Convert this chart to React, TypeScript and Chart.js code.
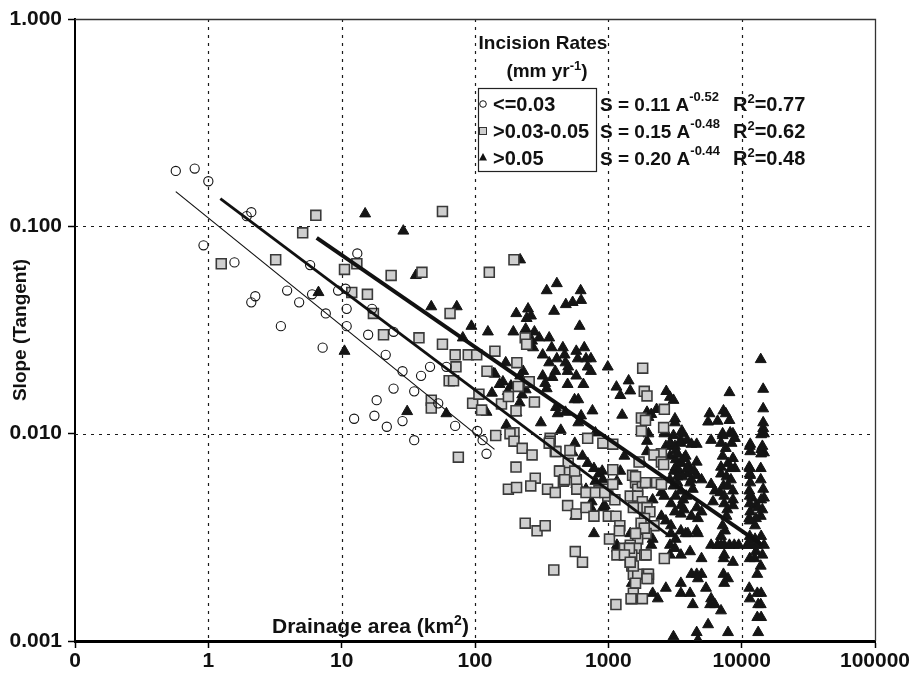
import React, { useEffect, useRef } from 'react';
import { Chart, registerables } from 'chart.js';

Chart.register(...registerables);

// ---- axis ticks ----
const xTickValues = [0.1, 1, 10, 100, 1000, 10000, 100000];
const xTickLabels = ['0', '1', '10', '100', '1000', '10000', '100000'];
const yTickValues = [0.001, 0.01, 0.1, 1];
const yTickLabels = ['0.001', '0.010', '0.100', '1.000'];

// ---- legend / fit text ----
const legendTitle = 'Incision Rates';
const legendUnit = ['(mm yr', '-1', ')'];
const legendLabels = ['<=0.03', '>0.03-0.05', '>0.05'];
const fitCoefs = ['0.11', '0.15', '0.20'];
const fitExps = ['-0.52', '-0.48', '-0.44'];
const fitR2 = ['0.77', '0.62', '0.48'];

// ---- data: [drainage area km2, slope] ----
const lowRate: [number, number][] = [
  [0.57, 0.185], [0.79, 0.19], [1.0, 0.165], [0.92, 0.081], [1.94, 0.112], [2.1, 0.117],
  [1.57, 0.067], [2.25, 0.046], [2.1, 0.043], [3.5, 0.033], [3.9, 0.049], [4.8, 0.043],
  [5.8, 0.065], [6.0, 0.047], [7.2, 0.026], [7.6, 0.038], [9.4, 0.049], [10.7, 0.05],
  [10.9, 0.04], [10.9, 0.033], [13.1, 0.074], [12.4, 0.0118], [15.8, 0.03], [16.9, 0.04],
  [18.3, 0.0145], [17.6, 0.0122], [21.8, 0.0108], [21.4, 0.024], [24.5, 0.031], [24.5, 0.0165],
  [28.6, 0.02], [28.6, 0.0115], [35, 0.016], [35, 0.0093], [39.4, 0.019], [46, 0.021],
  [53, 0.014], [61, 0.021], [71, 0.0109], [104, 0.0103], [114, 0.0093], [122, 0.008],
];

const midRate: [number, number][] = [
  [1.25, 0.066], [3.2, 0.069], [5.1, 0.093], [6.4, 0.113], [10.5, 0.062], [13, 0.066],
  [11.9, 0.048], [15.6, 0.047], [17.3, 0.038], [20.6, 0.03], [23.5, 0.058], [40, 0.06],
  [38, 0.029], [57, 0.118], [57, 0.027], [65, 0.038], [71, 0.024], [72, 0.021], [64, 0.018],
  [69, 0.018], [89, 0.024], [103, 0.024], [47, 0.0145], [47, 0.0133], [96, 0.014], [112, 0.013],
  [107, 0.0155], [123, 0.02], [141, 0.025], [128, 0.06], [143, 0.0098],
  [196, 0.069], [206, 0.022], [238, 0.029], [244, 0.027], [255, 0.0178], [211, 0.0169],
  [158, 0.0139], [178, 0.0151], [279, 0.0142], [203, 0.0129], [196, 0.0101], [183, 0.01],
  [366, 0.0095], [700, 0.0095],
  [1810, 0.0207], [1860, 0.016], [1950, 0.0152], [2630, 0.0131], [1770, 0.0119], [1900, 0.0116],
  [2600, 0.0107], [1770, 0.0103],
  [75, 0.0077], [203, 0.0069], [283, 0.0061], [178, 0.0054], [205, 0.0055], [262, 0.0056],
  [196, 0.0092], [226, 0.0085], [268, 0.0079], [366, 0.0092], [400, 0.0082], [350, 0.0054],
  [400, 0.0052], [435, 0.0066], [500, 0.0072], [510, 0.0065], [460, 0.0059], [575, 0.006],
  [495, 0.0045], [575, 0.0041], [238, 0.0037], [292, 0.0034], [336, 0.0036], [565, 0.0027],
  [640, 0.0024], [390, 0.0022], [680, 0.0044], [780, 0.004], [850, 0.0053], [990, 0.005],
  [1080, 0.0067], [1000, 0.004], [1140, 0.004], [1020, 0.0031], [1140, 0.0015], [910, 0.009],
  [1080, 0.0089], [580, 0.0054], [680, 0.0052], [800, 0.0052],
  [960, 0.0054], [1120, 0.0048], [1220, 0.0036], [1210, 0.0034], [1520, 0.0063], [1600, 0.0058],
  [1660, 0.0054], [1800, 0.0058], [1900, 0.0058], [1460, 0.005], [1660, 0.005], [1800, 0.0047],
  [1700, 0.0044], [1950, 0.0044], [2050, 0.0042], [1870, 0.0039], [1760, 0.0037], [1920, 0.0035],
  [2200, 0.0036], [1660, 0.0033], [1920, 0.0033], [1660, 0.0031], [1460, 0.0029], [1620, 0.0028],
  [1500, 0.0026], [1460, 0.0024], [1500, 0.0023], [1540, 0.0021], [1660, 0.0021], [1950, 0.0021],
  [2000, 0.002], [1600, 0.0019], [1540, 0.0017], [1500, 0.0016], [1800, 0.0016], [1870, 0.0026],
  [2630, 0.0025], [2300, 0.0058], [2500, 0.0057], [2500, 0.008], [2200, 0.0079], [2500, 0.0073],
  [2600, 0.0071], [1700, 0.0073], [1320, 0.0028], [1440, 0.0028],
  [430, 0.0066], [470, 0.006], [560, 0.0066], [515, 0.0083], [405, 0.0082], [360, 0.009],
  [940, 0.0052], [1080, 0.0057], [1600, 0.0062], [1540, 0.0044], [1860, 0.0035], [1600, 0.0033],
  [1160, 0.0026], [1320, 0.0026], [1920, 0.0026], [2000, 0.0021], [1950, 0.002], [1480, 0.0016],
  [1540, 0.0023], [1460, 0.0024],
];

const highRate: [number, number][] = [
  [15, 0.115], [29, 0.095], [36, 0.058], [6.7, 0.048], [10.5, 0.025], [47, 0.041], [73, 0.041],
  [94, 0.033], [125, 0.031], [81, 0.029], [31, 0.0128], [61, 0.0125], [138, 0.0195], [134, 0.0157],
  [122, 0.0127],
  [218, 0.069], [345, 0.049], [411, 0.053], [620, 0.049], [625, 0.044], [540, 0.043], [480, 0.042],
  [392, 0.039], [204, 0.038], [250, 0.04], [263, 0.037], [244, 0.036], [609, 0.033], [194, 0.031],
  [240, 0.032], [279, 0.031], [303, 0.029], [360, 0.029], [268, 0.028], [273, 0.026], [376, 0.026],
  [322, 0.024], [456, 0.026], [470, 0.024], [411, 0.023], [575, 0.025], [660, 0.026], [590, 0.023],
  [680, 0.023], [740, 0.023], [360, 0.022], [477, 0.022], [500, 0.021], [700, 0.021], [740, 0.02],
  [990, 0.021], [170, 0.022], [141, 0.0194], [230, 0.02], [218, 0.019], [322, 0.019], [381, 0.0187],
  [400, 0.02], [495, 0.02], [575, 0.019], [495, 0.0173], [153, 0.0173], [162, 0.0178], [186, 0.017],
  [176, 0.016], [251, 0.0173], [240, 0.0163], [336, 0.0175], [345, 0.0165], [650, 0.0173],
  [226, 0.0154], [216, 0.0141], [558, 0.0146], [595, 0.0146], [405, 0.0134], [417, 0.0125],
  [477, 0.0127], [760, 0.0129], [205, 0.0126], [625, 0.0122], [595, 0.0113], [312, 0.0113],
  [172, 0.011], [440, 0.0104], [800, 0.0101],
  [1150, 0.0168], [1230, 0.0153], [1420, 0.018], [1460, 0.0161], [2720, 0.016], [2900, 0.015],
  [3080, 0.0145], [1270, 0.0123], [1950, 0.0127], [2100, 0.0124], [2300, 0.0131], [2000, 0.012],
  [3160, 0.0118], [3160, 0.0113], [3560, 0.0103], [2700, 0.0101], [5740, 0.0125], [5600, 0.0114],
  [6600, 0.0115], [7300, 0.0129], [7600, 0.0125], [8100, 0.0116], [8100, 0.0158], [7200, 0.01],
  [8200, 0.0101], [13900, 0.0228], [14500, 0.0164], [14500, 0.0132], [14500, 0.0113],
  [14500, 0.0106], [14500, 0.0101],
  [560, 0.009], [540, 0.0081], [640, 0.0078], [700, 0.0072], [780, 0.0068], [850, 0.0064],
  [910, 0.006], [800, 0.0059], [575, 0.0057], [625, 0.0053], [680, 0.0054], [750, 0.0047],
  [740, 0.0044], [910, 0.0044], [565, 0.004], [780, 0.0033], [1160, 0.0029],
  [1950, 0.0092], [2000, 0.01], [2630, 0.01], [2950, 0.0089], [3160, 0.0087], [3500, 0.0093],
  [3600, 0.01], [3900, 0.0093], [4200, 0.0089], [4600, 0.0089], [5900, 0.0093], [7200, 0.0098],
  [7000, 0.009], [7600, 0.0085], [8400, 0.009], [8600, 0.01], [8900, 0.0095], [11600, 0.0089],
  [11600, 0.0082], [14700, 0.01], [14300, 0.0087], [14700, 0.0081], [1320, 0.0078], [1950, 0.0082],
  [2900, 0.0078], [3200, 0.0075], [3500, 0.0073], [3800, 0.0078], [4600, 0.0073], [7200, 0.0078],
  [7900, 0.0072], [8600, 0.0076], [8900, 0.0068], [11400, 0.0069], [13900, 0.0068],
  [900, 0.0066], [870, 0.0053], [1160, 0.0059], [1230, 0.0066], [2150, 0.0048], [2500, 0.0052],
  [2630, 0.005], [2900, 0.006], [3100, 0.0066], [3200, 0.0069], [3500, 0.0072],
  [3080, 0.0056], [3300, 0.0058], [3500, 0.0053], [3200, 0.005], [2950, 0.0046], [3500, 0.0045],
  [3650, 0.0048], [3850, 0.005], [3160, 0.0042], [3500, 0.0041], [3700, 0.0043],
  [4200, 0.006], [4600, 0.0063], [5000, 0.006], [4300, 0.0054], [4600, 0.0044], [5000, 0.0042],
  [4200, 0.004], [4700, 0.0039],
  [5900, 0.0057], [6300, 0.0053], [6900, 0.0052], [7300, 0.0056], [7400, 0.005],
  [6100, 0.0047], [7400, 0.0046], [7800, 0.0043], [8600, 0.0045], [8600, 0.0048],
  [7000, 0.0064], [7700, 0.0062], [8300, 0.006], [7900, 0.0056], [8600, 0.0053], [7000, 0.0069],
  [8300, 0.0068],
  [11600, 0.0063], [11600, 0.0058], [11400, 0.0053], [12000, 0.0049], [12800, 0.0045],
  [13300, 0.0044], [14300, 0.0043], [11600, 0.0042], [13900, 0.006], [14500, 0.0054],
  [14700, 0.0049], [13900, 0.004], [11400, 0.0039], [12800, 0.0039],
  [1460, 0.0033], [2150, 0.0031], [2100, 0.0029], [2500, 0.004], [2700, 0.0038], [2950, 0.0036],
  [2950, 0.0033], [3200, 0.0031], [3500, 0.0034], [3800, 0.0033], [3950, 0.0033], [4600, 0.0034],
  [4700, 0.0033],
  [5900, 0.0029], [6600, 0.0029], [7000, 0.0029], [7400, 0.0029], [8100, 0.0029], [8800, 0.0029],
  [9500, 0.0029], [11000, 0.0029], [11400, 0.0029], [12900, 0.0029], [14700, 0.0029],
  [7000, 0.0032], [7500, 0.0034], [7200, 0.0036], [7700, 0.004],
  [2900, 0.0029], [3160, 0.0028], [3500, 0.0026], [2900, 0.0026], [4100, 0.0027], [5000, 0.0025],
  [7300, 0.0025], [7400, 0.0026], [8600, 0.0024],
  [12800, 0.0027], [12500, 0.0025], [13900, 0.0023], [13100, 0.0021], [14300, 0.0026],
  [1500, 0.0019], [2150, 0.0017], [2350, 0.0016], [2700, 0.0018], [3500, 0.0019], [3500, 0.0017],
  [4200, 0.0021], [4600, 0.0021], [5000, 0.0021], [4700, 0.002], [4100, 0.0017], [4300, 0.0015],
  [5400, 0.0018], [5900, 0.0016], [5800, 0.0015], [6300, 0.0015], [7000, 0.0014],
  [7300, 0.0021], [7400, 0.0019], [7900, 0.002],
  [5600, 0.0012], [4600, 0.0011], [4700, 0.00101], [3080, 0.00105], [7900, 0.0011],
  [11400, 0.0018], [13100, 0.0017], [13300, 0.0015], [13900, 0.0015], [13100, 0.0013],
  [13300, 0.0011], [940, 0.0045], [1160, 0.0028],
  [11500, 0.0087], [11500, 0.0068], [11500, 0.0064], [11500, 0.005], [11500, 0.0046],
  [11500, 0.0038], [11500, 0.0032], [11500, 0.003], [11500, 0.0025], [11500, 0.0016],
  [14000, 0.0099], [14000, 0.0084], [14000, 0.008], [14000, 0.0048], [14000, 0.0032],
  [14000, 0.0017], [14000, 0.0013], [12600, 0.0036], [12600, 0.0031],
  [1800, 0.0072], [2700, 0.0087], [2900, 0.009], [3080, 0.0098], [3500, 0.009], [3200, 0.0083],
  [3300, 0.008], [3700, 0.0076], [4000, 0.007], [3400, 0.0066], [3900, 0.0064], [4100, 0.0058],
  [3600, 0.0062], [3300, 0.0062], [3900, 0.0068], [4400, 0.0066],
];

// regression lines, endpoints
const lowFit: [number, number][] = [[0.57, 0.147], [140, 0.0084]];
const midFit: [number, number][] = [[1.23, 0.136], [2900, 0.0032]];
const highFit: [number, number][] = [[6.5, 0.088], [14300, 0.0029]];

const FONT = '"Liberation Sans", Arial, Helvetica, sans-serif';
const toXY = (arr: [number, number][]) => arr.map(([x, y]) => ({ x, y }));

type Part = { t: string; sup?: boolean };

function drawParts(
  ctx: CanvasRenderingContext2D, x: number, y: number, parts: Part[],
  size: number, supSize: number, rise: number, align: 'left' | 'center',
) {
  const fontOf = (p: Part) => `bold ${p.sup ? supSize : size}px ${FONT}`;
  let total = 0;
  for (const p of parts) { ctx.font = fontOf(p); total += ctx.measureText(p.t).width; }
  let cx = align === 'center' ? x - total / 2 : x;
  ctx.textAlign = 'left';
  ctx.textBaseline = 'alphabetic';
  for (const p of parts) {
    ctx.font = fontOf(p);
    ctx.fillText(p.t, cx, p.sup ? y - rise : y);
    cx += ctx.measureText(p.t).width;
  }
}

const decorPlugin = {
  id: 'decor',
  beforeDatasetsDraw(chart: any) {
    const { ctx, chartArea: a, scales } = chart;
    const xs = scales.x;
    const ys = scales.y;
    ctx.save();
    ctx.strokeStyle = '#1a1a1a';
    ctx.lineWidth = 1.2;
    ctx.setLineDash([3, 5]);
    for (const v of xTickValues) {
      if (v === xTickValues[0] || v === xTickValues[xTickValues.length - 1]) continue;
      const px = Math.round(xs.getPixelForValue(v)) + 0.5;
      ctx.beginPath(); ctx.moveTo(px, a.top); ctx.lineTo(px, a.bottom); ctx.stroke();
    }
    for (const v of yTickValues) {
      if (v === yTickValues[0] || v === yTickValues[yTickValues.length - 1]) continue;
      const py = Math.round(ys.getPixelForValue(v)) + 0.5;
      ctx.beginPath(); ctx.moveTo(a.left, py); ctx.lineTo(a.right, py); ctx.stroke();
    }
    ctx.setLineDash([]);
    // top & right frame
    ctx.strokeStyle = '#333';
    ctx.lineWidth = 1.3;
    ctx.beginPath();
    ctx.moveTo(a.left, a.top + 0.5); ctx.lineTo(a.right + 0.5, a.top + 0.5);
    ctx.lineTo(a.right + 0.5, a.bottom);
    ctx.stroke();
    ctx.restore();
  },
  afterDraw(chart: any) {
    const { ctx } = chart;
    ctx.save();
    ctx.fillStyle = '#111';
    // y axis title
    ctx.save();
    ctx.translate(21, 330);
    ctx.rotate(-Math.PI / 2);
    ctx.font = `bold 19px ${FONT}`;
    ctx.textAlign = 'center';
    ctx.textBaseline = 'middle';
    ctx.fillText('Slope (Tangent)', 0, 0);
    ctx.restore();
    // x axis title (inside plot)
    drawParts(ctx, 272, 633, [{ t: 'Drainage area (km' }, { t: '2', sup: true }, { t: ')' }], 21, 14, 8, 'left');

    // legend title
    drawParts(ctx, 543, 49, [{ t: legendTitle }], 19, 13, 0, 'center');
    drawParts(ctx, 547, 77, [{ t: legendUnit[0] }, { t: legendUnit[1], sup: true }, { t: legendUnit[2] }], 19, 13, 7, 'center');

    // legend box
    ctx.strokeStyle = '#222';
    ctx.lineWidth = 1.2;
    ctx.strokeRect(478.5, 88.5, 118, 83);

    const rowBase = [111, 138, 165];
    const mx = 483;
    // markers
    ctx.lineWidth = 1;
    ctx.strokeStyle = '#111';
    ctx.beginPath(); ctx.arc(mx, rowBase[0] - 7, 3.3, 0, Math.PI * 2); ctx.stroke();
    ctx.fillStyle = '#cfcfcf';
    ctx.fillRect(mx - 3.5, rowBase[1] - 10.5, 7, 7);
    ctx.strokeStyle = '#333';
    ctx.strokeRect(mx - 3.5, rowBase[1] - 10.5, 7, 7);
    ctx.fillStyle = '#111';
    ctx.beginPath();
    ctx.moveTo(mx, rowBase[2] - 12); ctx.lineTo(mx + 4, rowBase[2] - 4.5); ctx.lineTo(mx - 4, rowBase[2] - 4.5);
    ctx.closePath(); ctx.fill();

    for (let i = 0; i < 3; i++) {
      drawParts(ctx, 493, rowBase[i], [{ t: legendLabels[i] }], 20, 14, 0, 'left');
      drawParts(ctx, 600, rowBase[i], [{ t: `S = ${fitCoefs[i]} A` }, { t: fitExps[i], sup: true }], 19, 13, 10, 'left');
      drawParts(ctx, 733, rowBase[i], [{ t: 'R' }, { t: '2', sup: true }, { t: `=${fitR2[i]}` }], 20, 13, 8, 'left');
    }
    ctx.restore();
  },
};

export default function App() {
  const ref = useRef<HTMLCanvasElement | null>(null);
  useEffect(() => {
    if (!ref.current) return;
    const tickFont = { family: FONT, weight: 'bold' as const, size: 21 };
    const chart = new Chart(ref.current, {
      type: 'scatter',
      data: {
        datasets: [
          { data: toXY(lowFit), showLine: true, pointRadius: 0, borderColor: '#111', borderWidth: 1.2 } as any,
          { data: toXY(midFit), showLine: true, pointRadius: 0, borderColor: '#111', borderWidth: 2.8 } as any,
          { data: toXY(highFit), showLine: true, pointRadius: 0, borderColor: '#111', borderWidth: 4 } as any,
          { data: toXY(lowRate), pointStyle: 'circle', pointRadius: 4.6, backgroundColor: 'rgba(255,255,255,0)', borderColor: '#111', borderWidth: 1.1 },
          { data: toXY(midRate), pointStyle: 'rect', pointRadius: 7, backgroundColor: '#cfcfcf', borderColor: '#3a3a3a', borderWidth: 1.6 },
          { data: toXY(highRate), pointStyle: 'triangle', pointRadius: 6.3, backgroundColor: '#151515', borderColor: '#151515', borderWidth: 1 },
        ],
      },
      options: {
        animation: false,
        responsive: false,
        events: [],
        layout: { padding: { top: 19, right: 42, left: 0, bottom: 0 } },
        plugins: { legend: { display: false }, tooltip: { enabled: false } },
        scales: {
          x: {
            type: 'logarithmic',
            min: 0.1,
            max: 100000,
            afterBuildTicks: (s: any) => { s.ticks = xTickValues.map((v) => ({ value: v })); },
            afterFit: (s: any) => { s.height = 32; },
            ticks: { autoSkip: false, maxRotation: 0, minRotation: 0, padding: 1, color: '#111', font: tickFont, callback: (_v: any, i: number) => xTickLabels[i] },
            grid: { drawOnChartArea: false, drawTicks: true, tickLength: 7, tickColor: '#000', tickWidth: 1.5, color: '#000' },
            border: { display: true, color: '#000', width: 3 },
          },
          y: {
            type: 'logarithmic',
            min: 0.001,
            max: 1,
            afterBuildTicks: (s: any) => { s.ticks = yTickValues.map((v) => ({ value: v })); },
            afterFit: (s: any) => { s.width = 75; },
            ticks: { autoSkip: false, padding: 6, color: '#111', font: tickFont, callback: (_v: any, i: number) => yTickLabels[i] },
            grid: { drawOnChartArea: false, drawTicks: true, tickLength: 7, tickColor: '#000', tickWidth: 1.5, color: '#000' },
            border: { display: true, color: '#000', width: 2 },
          },
        },
      },
      plugins: [decorPlugin],
    });
    return () => chart.destroy();
  }, []);
  return (
    <div style={{ position: 'absolute', left: 0, top: 0, width: 917, height: 673, background: '#fff' }}>
      <canvas ref={ref} width={917} height={673} style={{ display: 'block' }} />
    </div>
  );
}
